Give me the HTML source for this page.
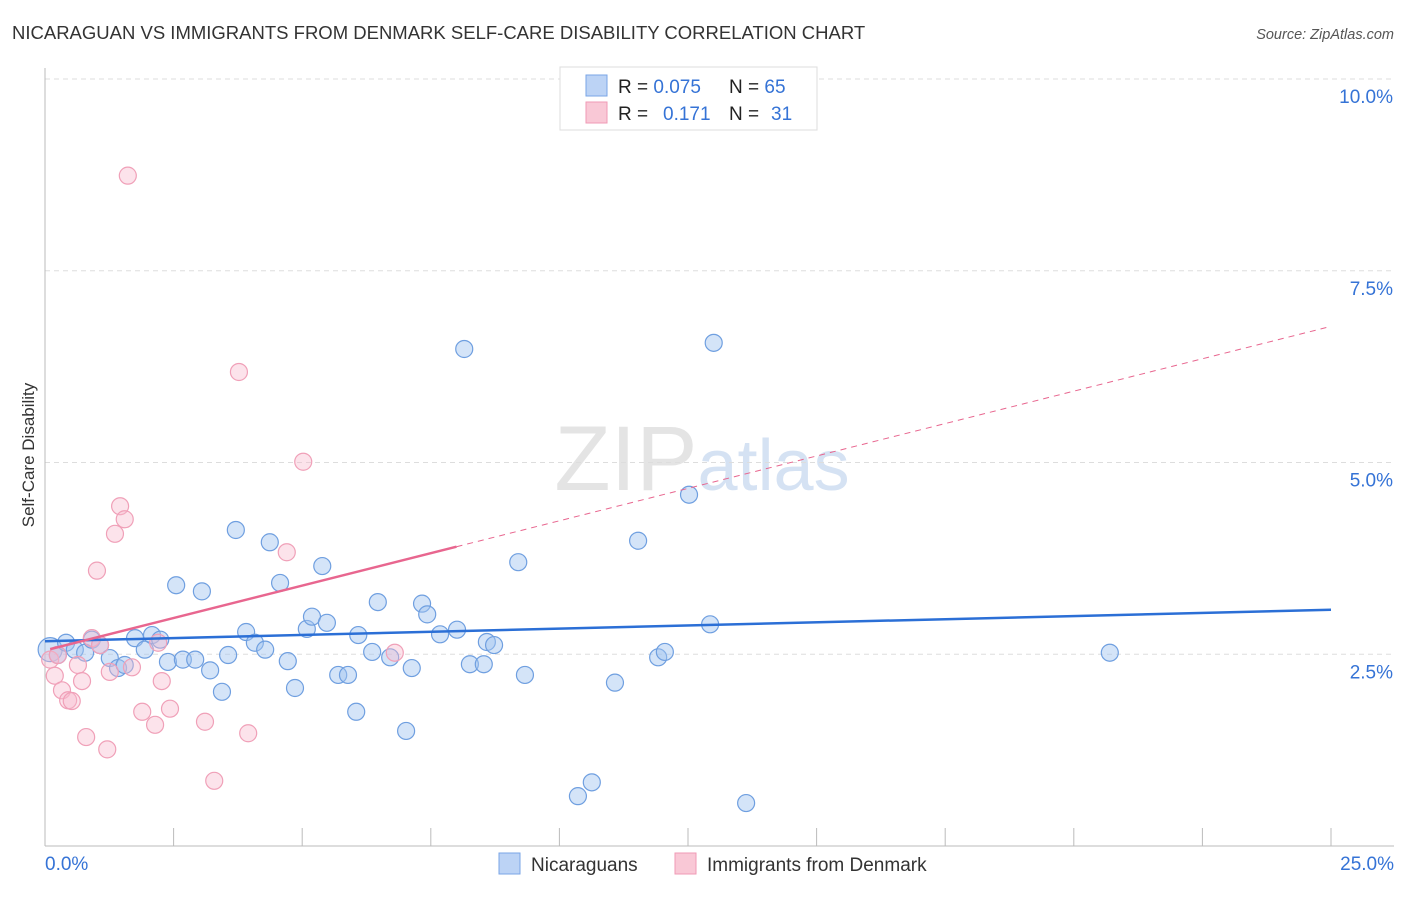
<!DOCTYPE html>
<html><head><meta charset="utf-8">
<style>
body{margin:0;background:#fff;font-family:"Liberation Sans",sans-serif;}
svg text{font-family:"Liberation Sans",sans-serif;}
</style></head>
<body>
<svg id="chart" width="1406" height="892" xmlns="http://www.w3.org/2000/svg">
<text x="12" y="39" font-size="18.5" fill="#333">NICARAGUAN VS IMMIGRANTS FROM DENMARK SELF-CARE DISABILITY CORRELATION CHART</text>
<text x="1394" y="39" font-size="14.5" fill="#555" font-style="italic" text-anchor="end">Source: ZipAtlas.com</text>
<text x="702" y="490" font-size="92" fill="#e4e4e4" text-anchor="middle" font-family="Liberation Serif"><tspan>ZIP</tspan><tspan fill="#d5e2f3" font-family="Liberation Sans" font-size="72">atlas</tspan></text>
<text transform="translate(34,455) rotate(-90)" font-size="17" fill="#333" text-anchor="middle">Self-Care Disability</text>
<g id="grid"></g>
<g id="axes"></g>
<g id="marks"></g>
<g>
<rect x="560" y="67" width="257" height="63" fill="#fff" stroke="#ddd"/>
<rect x="586" y="75" width="21" height="21" fill="#bcd3f5" stroke="#7aa5e6"/>
<rect x="586" y="102" width="21" height="21" fill="#f9c8d6" stroke="#f09ab5"/>
<text x="618" y="93" font-size="19" fill="#222">R = <tspan fill="#3573d6">0.075</tspan><tspan x="729">N = </tspan><tspan fill="#3573d6">65</tspan></text>
<text x="618" y="120" font-size="19" fill="#222">R = <tspan x="663" fill="#3573d6">0.171</tspan><tspan x="729">N = </tspan><tspan x="771" fill="#3573d6">31</tspan></text>
</g>
<g>
<rect x="499" y="853" width="21" height="21" fill="#bcd3f5" stroke="#7aa5e6"/>
<text x="531" y="871" font-size="19" fill="#333">Nicaraguans</text>
<rect x="675" y="853" width="21" height="21" fill="#f9c8d6" stroke="#f09ab5"/>
<text x="707" y="871" font-size="19" fill="#333">Immigrants from Denmark</text>
</g>
</svg>
<script>
const yTicks=[2.5,5.0,7.5,10.0];
const yTickLabels=["2.5%","5.0%","7.5%","10.0%"];
const xTickLabels=["0.0%","25.0%"];
const blueX=[0.10,0.25,0.41,0.58,0.78,0.91,1.07,1.26,1.42,1.55,1.75,1.94,2.08,2.24,2.39,2.55,2.68,2.92,3.05,3.21,3.44,3.56,3.71,3.91,4.08,4.28,4.37,4.57,4.72,4.86,5.09,5.19,5.39,5.48,5.70,5.89,6.05,6.09,6.36,6.47,6.71,7.02,7.13,7.33,7.43,7.68,8.01,8.15,8.26,8.53,8.59,8.73,9.20,9.33,10.36,10.63,11.08,11.53,11.92,12.05,12.52,12.93,13.00,13.63,20.70];
const blueY=[2.56,2.49,2.65,2.56,2.52,2.69,2.62,2.45,2.32,2.36,2.71,2.56,2.75,2.69,2.40,3.40,2.43,2.43,3.32,2.29,2.01,2.49,4.12,2.79,2.65,2.56,3.96,3.43,2.41,2.06,2.83,2.99,3.65,2.91,2.23,2.23,1.75,2.75,2.53,3.18,2.46,1.50,2.32,3.16,3.02,2.76,2.82,6.48,2.37,2.37,2.66,2.62,3.70,2.23,0.65,0.83,2.13,3.98,2.46,2.53,4.58,2.89,6.56,0.56,2.52];
const pinkX=[0.10,0.19,0.25,0.33,0.45,0.52,0.64,0.72,0.80,0.91,1.01,1.07,1.21,1.26,1.36,1.46,1.55,1.61,1.69,1.89,2.14,2.20,2.27,2.43,3.11,3.29,3.77,3.95,4.70,5.02,6.80];
const pinkY=[2.43,2.22,2.49,2.03,1.90,1.89,2.36,2.15,1.42,2.71,3.59,2.62,1.26,2.27,4.07,4.43,4.26,8.74,2.33,1.75,1.58,2.65,2.15,1.79,1.62,0.85,6.18,1.47,3.83,5.01,2.52];
const blueTrend=[2.67,3.08];
const pinkTrend=[2.55,0.169];
const NS="http://www.w3.org/2000/svg";
function X(v){return 45+v*51.44;}
function Y(v){return 846-v*76.7;}
function mk(tag,attrs,parent){const e=document.createElementNS(NS,tag);for(const k in attrs)e.setAttribute(k,attrs[k]);parent.appendChild(e);return e;}
const grid=document.getElementById('grid'),axes=document.getElementById('axes'),marks=document.getElementById('marks');
yTicks.forEach((t,i)=>{
 const l=mk('line',{x1:45,x2:1394,y1:Y(t),y2:Y(t),stroke:'#ddd','stroke-dasharray':'5,4'},grid);
 
 
 const tx=mk('text',{x:1393,y:Y(t)+24,'font-size':19,fill:'#3573d6','text-anchor':'end'},axes);
 tx.textContent=yTickLabels[i];
 
 
});
const ax=mk('line',{x1:45,x2:1394,y1:846,y2:846,stroke:'#bbb'},axes);


const ay=mk('line',{x1:45,x2:45,y1:68,y2:846,stroke:'#bbb'},axes);


for(let i=0;i<=10;i++){
 const t=mk('line',{x1:X(i*2.5),x2:X(i*2.5),y1:828,y2:846,stroke:'#bbb'},axes);
 
 
}
const xl0=mk('text',{x:45,y:870,'font-size':19,fill:'#3573d6'},axes);
xl0.textContent=xTickLabels[0];


const xl1=mk('text',{x:1394,y:870,'font-size':19,fill:'#3573d6','text-anchor':'end'},axes);
xl1.textContent=xTickLabels[1];


blueX.forEach((v,i)=>{
 const c=mk('circle',{cx:X(v),cy:Y(blueY[i]),r:i===0?12:8.5,fill:'rgba(160,195,240,0.45)',stroke:'#6f9fe0','stroke-width':1.2},marks);
 
 
});
pinkX.forEach((v,i)=>{
 const c=mk('circle',{cx:X(v),cy:Y(pinkY[i]),r:8.5,fill:'rgba(248,185,205,0.4)',stroke:'#f0a0b8','stroke-width':1.2},marks);
 
 
});
const bt=mk('line',{x1:X(0),y1:Y(blueTrend[0]),x2:X(25),y2:Y(blueTrend[1]),stroke:'#2b6fd6','stroke-width':2.5},marks);


const pt=mk('line',{x1:X(0.1),y1:Y(pinkTrend[0]+pinkTrend[1]*0.1),x2:X(8),y2:Y(pinkTrend[0]+pinkTrend[1]*8),stroke:'#e8668f','stroke-width':2.5},marks);


const pd=mk('line',{x1:X(8),y1:Y(pinkTrend[0]+pinkTrend[1]*8),x2:X(25),y2:Y(pinkTrend[0]+pinkTrend[1]*25),stroke:'#e8668f','stroke-width':1,'stroke-dasharray':'6,5'},marks);


</script>
</body></html>
